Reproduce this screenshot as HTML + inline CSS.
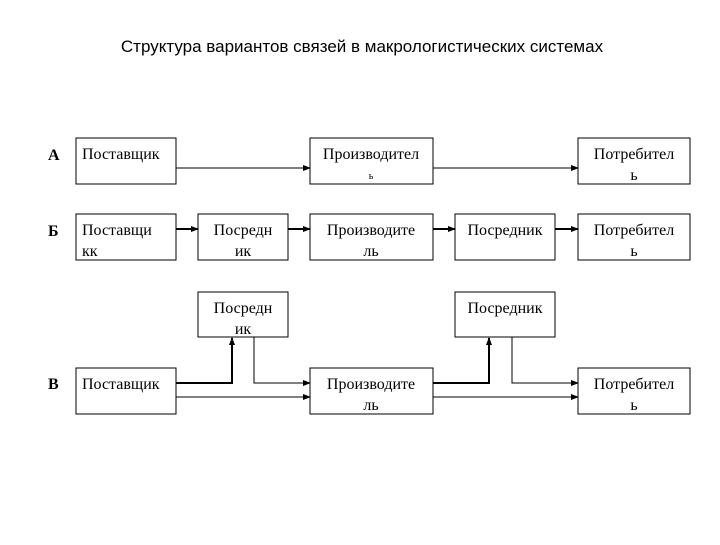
<!DOCTYPE html>
<html><head><meta charset="utf-8"><style>
html,body{margin:0;padding:0;background:#fff;}
svg text{font-family:"Liberation Serif",serif;font-size:16px;fill:#000;}
</style></head><body>
<svg width="720" height="540" viewBox="0 0 720 540" xmlns="http://www.w3.org/2000/svg">
<defs><marker id="a" markerWidth="8" markerHeight="8" refX="7" refY="4" orient="auto" markerUnits="userSpaceOnUse"><path d="M0,1 L8,4 L0,7 z" fill="#000"/></marker></defs>
<text x="362" y="52" text-anchor="middle" style="font-family:'Liberation Sans',sans-serif;font-size:17px">Структура вариантов связей в макрологистических системах</text>
<g fill="none" stroke="#000" stroke-width="1">
<rect x="76" y="138" width="100" height="46"/><rect x="310" y="138" width="123" height="46"/><rect x="578" y="138" width="112" height="46"/>
<rect x="76" y="214" width="100" height="46"/><rect x="198" y="214" width="90" height="46"/><rect x="310" y="214" width="123" height="46"/><rect x="455" y="214" width="100" height="46"/><rect x="578" y="214" width="112" height="46"/>
<rect x="198" y="292" width="90" height="45"/><rect x="455" y="292" width="100" height="45"/>
<rect x="76" y="368" width="100" height="46"/><rect x="310" y="368" width="123" height="46"/><rect x="578" y="368" width="112" height="46"/>
<line x1="176" y1="168" x2="310" y2="168" marker-end="url(#a)"/><line x1="433" y1="168" x2="578" y2="168" marker-end="url(#a)"/>
<g stroke-width="2"><line x1="176" y1="229" x2="198" y2="229" marker-end="url(#a)"/><line x1="288" y1="229" x2="310" y2="229" marker-end="url(#a)"/><line x1="433" y1="229" x2="455" y2="229" marker-end="url(#a)"/><line x1="555" y1="229" x2="578" y2="229" marker-end="url(#a)"/></g>
<polyline points="176,383 232,383 232,338" stroke-width="2" marker-end="url(#a)"/>
<polyline points="254,337 254,383 310,383" marker-end="url(#a)"/>
<line x1="176" y1="397" x2="310" y2="397" marker-end="url(#a)"/>
<polyline points="433,383 489,383 489,338" stroke-width="2" marker-end="url(#a)"/>
<polyline points="512,337 512,383 578,383" marker-end="url(#a)"/>
<line x1="433" y1="397" x2="578" y2="397" marker-end="url(#a)"/>
</g>
<g style="font-weight:bold"><text x="48" y="160">А</text><text x="48" y="236">Б</text><text x="48" y="389">В</text></g>
<text x="82" y="159">Поставщик</text>
<text x="371" y="159" text-anchor="middle">Производител</text><text x="371" y="179" text-anchor="middle" style="font-size:10px">ь</text>
<text x="634" y="159" text-anchor="middle">Потребител</text><text x="634" y="180" text-anchor="middle">ь</text>
<text x="82" y="235">Поставщи</text><text x="82" y="256">кк</text>
<text x="243" y="235" text-anchor="middle">Посредн</text><text x="243" y="256" text-anchor="middle">ик</text>
<text x="371" y="235" text-anchor="middle">Производите</text><text x="371" y="256" text-anchor="middle">ль</text>
<text x="505" y="235" text-anchor="middle">Посредник</text>
<text x="634" y="235" text-anchor="middle">Потребител</text><text x="634" y="256" text-anchor="middle">ь</text>
<text x="243" y="313" text-anchor="middle">Посредн</text><text x="243" y="334" text-anchor="middle">ик</text>
<text x="505" y="313" text-anchor="middle">Посредник</text>
<text x="82" y="389">Поставщик</text>
<text x="371" y="389" text-anchor="middle">Производите</text><text x="371" y="410" text-anchor="middle">ль</text>
<text x="634" y="389" text-anchor="middle">Потребител</text><text x="634" y="410" text-anchor="middle">ь</text>
</svg>
</body></html>
